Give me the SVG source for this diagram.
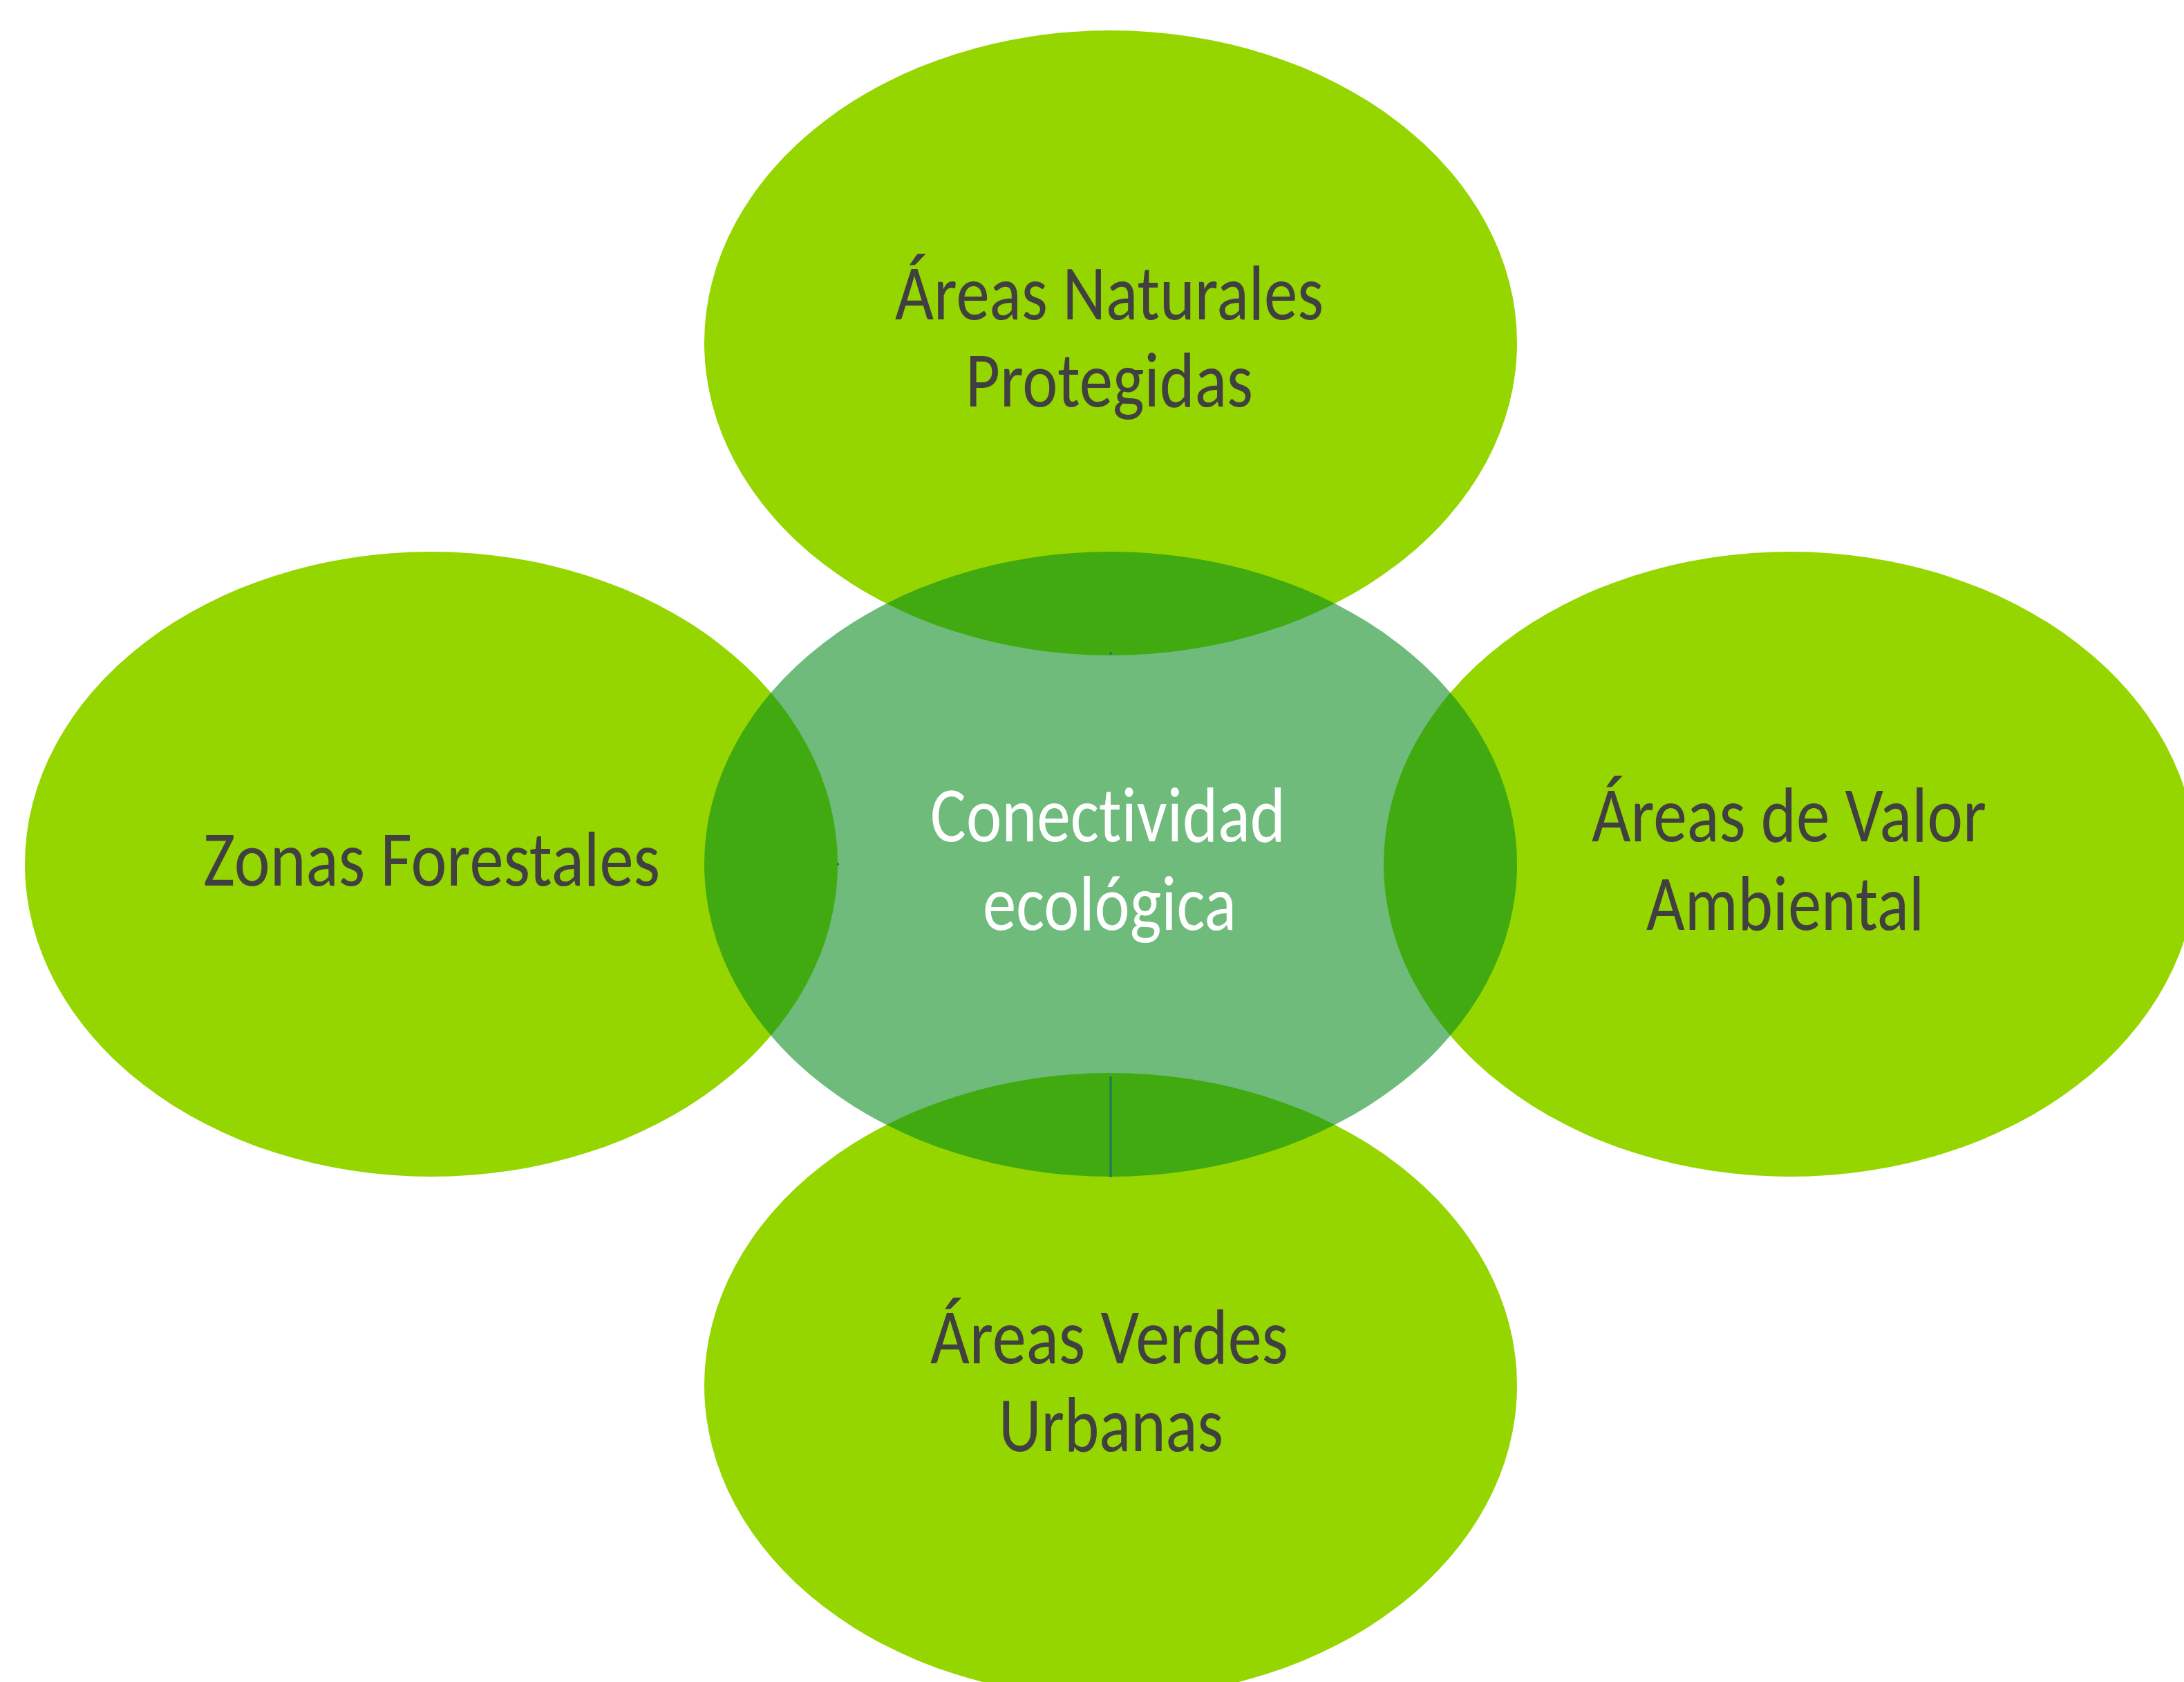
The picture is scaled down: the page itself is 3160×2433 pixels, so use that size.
<svg xmlns="http://www.w3.org/2000/svg" width="3160" height="2433" viewBox="0 0 3160 2433">
<style>
.outer{fill:#95D600;}
.hub{fill:#058A1B;fill-opacity:0.58;}
.lbl{font-family:Carlito,"Liberation Sans",Arial,sans-serif;font-size:114px;fill:#404040;font-variant-ligatures:none;}
.hubl{font-family:Carlito,"Liberation Sans",Arial,sans-serif;font-size:114px;fill:#FFFFFF;font-variant-ligatures:none;}
.conn{stroke:#3A5FB0;stroke-width:3;fill:none;}
</style>
<rect width="3160" height="2433" fill="#FFFFFF"/>
<g id="node-top"><ellipse class="outer" cx="1607" cy="496" rx="588" ry="452"/></g>
<g id="node-left"><ellipse class="outer" cx="624" cy="1250" rx="588" ry="452"/></g>
<g id="node-right"><ellipse class="outer" cx="2590" cy="1250" rx="588" ry="452"/></g>
<g id="node-bottom"><ellipse class="outer" cx="1607" cy="2004" rx="588" ry="452"/></g>
<g id="connectors">
<line class="conn" x1="1607" y1="1557" x2="1607" y2="1703"/>
<line class="conn" x1="1607" y1="943" x2="1607" y2="947"/>
<line class="conn" x1="1211" y1="1250" x2="1214" y2="1250"/>
</g>
<g id="node-center"><ellipse class="hub" cx="1607" cy="1250" rx="588" ry="452"/></g>
<g id="labels">
<text class="lbl" x="1295" y="462" textLength="620" lengthAdjust="spacingAndGlyphs">Áreas Naturales</text>
<text class="lbl" x="1397" y="588" textLength="416" lengthAdjust="spacingAndGlyphs">Protegidas</text>
<text class="hubl" x="1346" y="1217" textLength="514" lengthAdjust="spacingAndGlyphs">Conectividad</text>
<text class="hubl" x="1422" y="1345" textLength="367" lengthAdjust="spacingAndGlyphs">ecológica</text>
<text class="lbl" x="294" y="1281" textLength="661" lengthAdjust="spacingAndGlyphs">Zonas Forestales</text>
<text class="lbl" x="2303" y="1217" textLength="571" lengthAdjust="spacingAndGlyphs">Áreas de Valor</text>
<text class="lbl" x="2382" y="1345" textLength="402" lengthAdjust="spacingAndGlyphs">Ambiental</text>
<text class="lbl" x="1346" y="1972" textLength="518" lengthAdjust="spacingAndGlyphs">Áreas Verdes</text>
<text class="lbl" x="1445" y="2099" textLength="325" lengthAdjust="spacingAndGlyphs">Urbanas</text>
</g>
</svg>
